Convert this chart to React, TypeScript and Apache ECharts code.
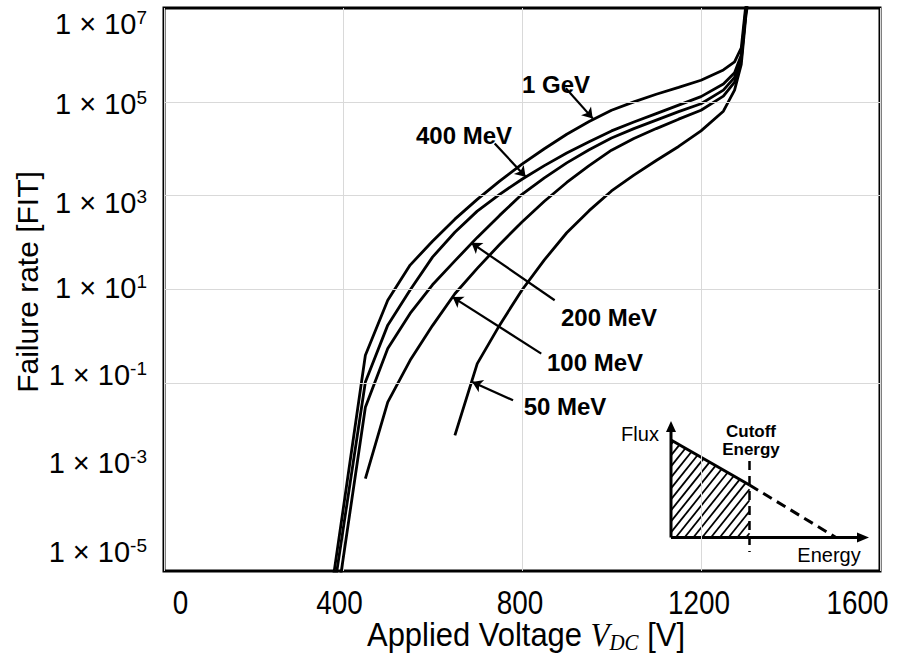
import React, { useEffect, useRef } from "react";
import * as echarts from "echarts";

// ---------- data ----------
const voltages = [350, 400, 450, 500, 550, 600, 650, 700, 750, 800, 850, 900, 950, 1000, 1050, 1100, 1150, 1200, 1250, 1275, 1290, 1300, 1310];

const rate1GeV = [1e-7, 1.95e-4, 0.398, 5.89, 33.1, 107, 316, 832, 2040, 4680, 1.0e4, 2.04e4, 3.8e4, 6.61e4, 1.0e5, 1.45e5, 2.04e5, 2.88e5, 4.79e5, 7.08e5, 1.41e6, 1.12e7, 3.98e7];
const rate400MeV = [5.01e-8, 7.41e-5, 0.107, 1.74, 9.77, 49.0, 166, 468, 1070, 2240, 4370, 8130, 1.41e4, 2.4e4, 3.72e4, 5.62e4, 8.51e4, 1.29e5, 2.4e5, 4.17e5, 1.0e6, 8.91e6, 3.98e7];
const rate200MeV = [1e-8, 1.74e-5, 0.0309, 0.55, 3.09, 12.6, 40.7, 129, 380, 1070, 2400, 5010, 9550, 1.7e4, 2.69e4, 4.07e4, 6.17e4, 9.12e4, 1.78e5, 3.31e5, 8.91e5, 7.94e6, 3.55e7];
const rate100MeV = [null, null, 9.33e-4, 0.0398, 0.309, 1.7, 8.13, 28.2, 91.2, 275, 759, 1910, 4370, 9330, 1.66e4, 2.69e4, 4.27e4, 6.61e4, 1.32e5, 2.63e5, 7.94e5, 7.59e6, 3.55e7];
const rate50MeV = [null, null, null, null, null, null, 7.76e-3, 0.263, 1.74, 9.77, 42.7, 162, 479, 1260, 2750, 5620, 1.12e4, 2.4e4, 6.31e4, 1.78e5, 6.31e5, 6.31e6, 3.16e7];

const seriesNames = ["1 GeV", "400 MeV", "200 MeV", "100 MeV", "50 MeV"];
const seriesRates = [rate1GeV, rate400MeV, rate200MeV, rate100MeV, rate50MeV];

// annotation arrows (label end -> curve end), in data units
const arrowFromV = [898, 739, 873, 843, 780];
const arrowFromRate = [1.94e5, 1.3e4, 5.9, 0.43, 0.0435];
const arrowToV = [958, 808, 687, 645, 689];
const arrowToRate = [4.44e4, 2.52e3, 98.6, 6.9, 0.107];

// horizontal grid rates
const gridRates = [1e-3, 1e-1, 1e1, 1e3, 1e5];

// tick labels
const xTickLabels = ["0", "400", "800", "1200", "1600"];
const yTickExponents = ["7", "5", "3", "1", "-1", "-3", "-5"];

// ---------- layout (pixels) ----------
const xTickCenters = [180.5, 339.5, 520, 699, 857.5];
const yTickCenters = [24, 104, 202.5, 287.5, 375, 462.5, 551.7];
const curveLabelPos: [number, number][] = [
  [556, 84],
  [464, 135],
  [609, 317],
  [595, 362],
  [565, 406],
];

const FONT = "'Liberation Sans', Arial, Helvetica, sans-serif";
const SERIF = "'Liberation Serif', 'DejaVu Serif', serif";

function hatchLines(poly: number[][], slope: number, step: number) {
  const bs = poly.map(([x, y]) => y - slope * x);
  const bmin = Math.min(...bs);
  const bmax = Math.max(...bs);
  const out: any[] = [];
  for (let b = bmin + step * 0.4; b < bmax; b += step) {
    const pts: number[][] = [];
    for (let i = 0; i < poly.length; i++) {
      const P = poly[i];
      const Q = poly[(i + 1) % poly.length];
      const dx = Q[0] - P[0];
      const dy = Q[1] - P[1];
      const den = dy - slope * dx;
      if (Math.abs(den) < 1e-9) continue;
      const s = (slope * P[0] + b - P[1]) / den;
      if (s >= -1e-9 && s <= 1 + 1e-9) pts.push([P[0] + s * dx, P[1] + s * dy]);
    }
    if (pts.length >= 2) {
      pts.sort((a, c) => a[0] - c[0]);
      const a = pts[0];
      const c = pts[pts.length - 1];
      if (Math.hypot(a[0] - c[0], a[1] - c[1]) > 1) {
        out.push({
          type: "line",
          shape: { x1: a[0], y1: a[1], x2: c[0], y2: c[1] },
          style: { stroke: "#000", lineWidth: 1.8 },
          silent: true,
        });
      }
    }
  }
  return out;
}

export default function App() {
  const ref = useRef<HTMLDivElement>(null);

  useEffect(() => {
    document.body.style.margin = "0";
    document.body.style.overflow = "hidden";
    if (!ref.current) return;
    const chart = echarts.init(ref.current, undefined, { renderer: "svg" });

    const curveSeries = seriesNames.map((name, k) => ({
      name,
      type: "line",
      data: voltages
        .map((v, i) => [v, seriesRates[k][i]])
        .filter((p) => p[1] != null),
      symbol: "none",
      showSymbol: false,
      lineStyle: { color: "#000", width: 2.8 },
      itemStyle: { color: "#000" },
      z: 3,
      silent: true,
    }));

    const gridSeries = {
      name: "grid",
      type: "line",
      data: [],
      z: 1,
      silent: true,
      markLine: {
        silent: true,
        symbol: ["none", "none"],
        label: { show: false },
        emphasis: { disabled: true },
        lineStyle: { color: "#d9d9d9", width: 1, type: "solid" },
        data: gridRates.map((r) => ({ yAxis: r })),
      },
    };

    const arrowSeries = {
      name: "arrows",
      type: "line",
      data: [],
      z: 6,
      silent: true,
      markLine: {
        silent: true,
        symbol: ["none", "arrow"],
        symbolSize: 10,
        label: { show: false },
        emphasis: { disabled: true },
        lineStyle: { color: "#000", width: 2.2, type: "solid" },
        data: arrowFromV.map((v, i) => [
          { coord: [v, arrowFromRate[i]] },
          { coord: [arrowToV[i], arrowToRate[i]] },
        ]),
      },
    };

    // ----- graphic: tick labels, titles, curve labels, inset -----
    const g: any[] = [];

    xTickLabels.forEach((t, i) => {
      g.push({
        type: "text",
        x: xTickCenters[i],
        y: 603,
        scaleX: 0.82,
        silent: true,
        style: { text: t, fontSize: 34, fontFamily: FONT, fill: "#000", align: "center", verticalAlign: "middle" },
      });
    });

    yTickExponents.forEach((e, i) => {
      g.push({
        type: "text",
        x: 147,
        y: yTickCenters[i],
        silent: true,
        style: {
          text: `{m|1 × 10}{s|${e}}`,
          align: "right",
          verticalAlign: "middle",
          fill: "#000",
          rich: {
            m: { fontSize: 29, fontFamily: FONT, fill: "#000", lineHeight: 32 },
            s: { fontSize: 19, fontFamily: FONT, fill: "#000", lineHeight: 19, verticalAlign: "top" },
          },
        },
      });
    });

    g.push({
      type: "text",
      x: 526,
      y: 634,
      scaleX: 0.91,
      silent: true,
      style: {
        text: "{a|Applied Voltage }{v|V}{s|DC}{a| [V]}",
        align: "center",
        verticalAlign: "middle",
        fill: "#000",
        rich: {
          a: { fontSize: 34, fontFamily: FONT, fill: "#000", lineHeight: 40 },
          v: { fontSize: 34, fontFamily: SERIF, fontStyle: "italic", fill: "#000", lineHeight: 40 },
          s: { fontSize: 23, fontFamily: SERIF, fontStyle: "italic", fill: "#000", lineHeight: 22, verticalAlign: "bottom" },
        },
      },
    });

    g.push({
      type: "text",
      x: 27,
      y: 282,
      rotation: Math.PI / 2,
      silent: true,
      style: { text: "Failure rate [FIT]", fontSize: 30, fontFamily: FONT, fill: "#000", align: "center", verticalAlign: "middle" },
    });

    seriesNames.forEach((n, i) => {
      g.push({
        type: "text",
        x: curveLabelPos[i][0],
        y: curveLabelPos[i][1],
        silent: true,
        z: 10,
        style: { text: n, fontSize: 24, fontWeight: "bold", fontFamily: FONT, fill: "#000", align: "center", verticalAlign: "middle" },
      });
    });

    // inset diagram
    const ox = 671;
    const oy = 537.5;
    const topY = 440;
    const cutX = 749.5;
    const cutY = 485;
    const inset: any[] = [];
    inset.push(...hatchLines([[ox, topY], [cutX, cutY], [cutX, oy], [ox, oy]], -1.25, 11));
    inset.push({ type: "line", shape: { x1: ox, y1: topY, x2: cutX, y2: cutY }, style: { stroke: "#000", lineWidth: 3 } });
    inset.push({ type: "line", shape: { x1: cutX, y1: cutY, x2: 836, y2: oy }, style: { stroke: "#000", lineWidth: 3, lineDash: [10, 6] } });
    inset.push({ type: "line", shape: { x1: cutX, y1: 461, x2: cutX, y2: 552 }, style: { stroke: "#000", lineWidth: 2.5, lineDash: [9, 6] } });
    inset.push({ type: "line", shape: { x1: ox, y1: oy, x2: ox, y2: 428 }, style: { stroke: "#000", lineWidth: 3 } });
    inset.push({ type: "line", shape: { x1: ox, y1: oy, x2: 860, y2: oy }, style: { stroke: "#000", lineWidth: 3 } });
    inset.push({ type: "polygon", shape: { points: [[ox, 421], [ox - 5, 432], [ox + 5, 432]] }, style: { fill: "#000" } });
    inset.push({ type: "polygon", shape: { points: [[869, oy], [857, oy - 5], [857, oy + 5]] }, style: { fill: "#000" } });
    inset.push({ type: "text", x: 640, y: 434, style: { text: "Flux", fontSize: 20, fontFamily: FONT, fill: "#000", align: "center", verticalAlign: "middle" } });
    inset.push({ type: "text", x: 751, y: 440, style: { text: "Cutoff\nEnergy", fontSize: 17, fontWeight: "bold", lineHeight: 18, fontFamily: FONT, fill: "#000", align: "center", verticalAlign: "middle" } });
    inset.push({ type: "text", x: 829, y: 555, style: { text: "Energy", fontSize: 20, fontFamily: FONT, fill: "#000", align: "center", verticalAlign: "middle" } });
    g.push({ type: "group", silent: true, z: 8, children: inset });

    chart.setOption({
      animation: false,
      backgroundColor: "#fff",
      grid: {
        left: 164,
        right: 21,
        top: 8,
        bottom: 86,
        show: true,
        borderColor: "#000",
        borderWidth: 3,
        backgroundColor: "transparent",
      },
      xAxis: {
        type: "value",
        min: 0,
        max: 1600,
        interval: 400,
        axisLine: { show: false },
        axisTick: { show: false },
        axisLabel: { show: false },
        splitLine: { show: true, lineStyle: { color: "#d9d9d9", width: 1 } },
      },
      yAxis: {
        type: "log",
        logBase: 10,
        min: 1e-5,
        max: 1e7,
        axisLine: { show: false },
        axisTick: { show: false },
        axisLabel: { show: false },
        splitLine: { show: false },
        minorSplitLine: { show: false },
      },
      tooltip: { show: false },
      series: [gridSeries, ...curveSeries, arrowSeries],
      graphic: g,
    });

    return () => chart.dispose();
  }, []);

  return <div ref={ref} style={{ width: 901, height: 657 }} />;
}
